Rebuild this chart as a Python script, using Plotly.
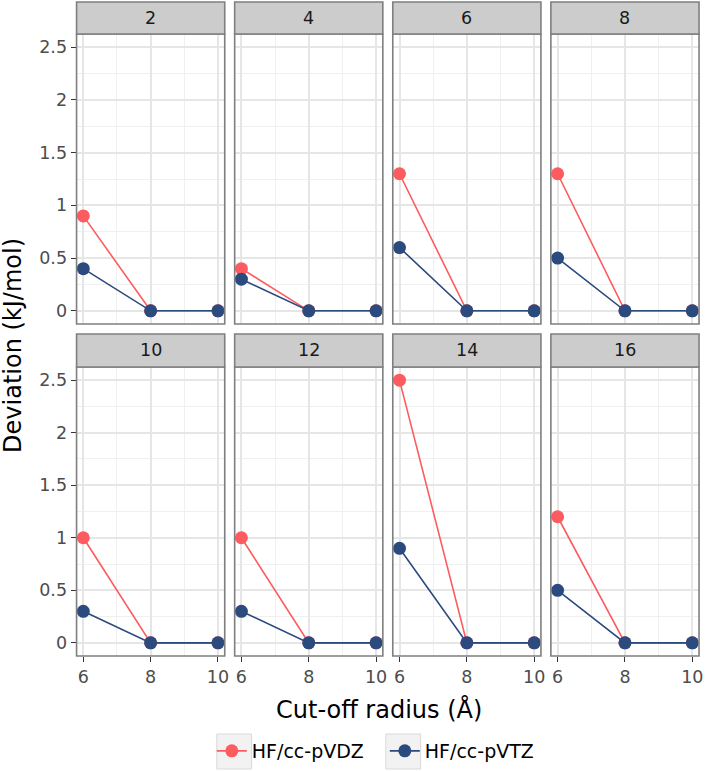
import plotly.graph_objects as go

W, H = 709, 771

panels = ["2", "4", "6", "8", "10", "12", "14", "16"]
cutoff = [6, 8, 10]
vdz = [
    [0.9, 0, 0], [0.4, 0, 0], [1.3, 0, 0], [1.3, 0, 0],
    [1.0, 0, 0], [1.0, 0, 0], [2.5, 0, 0], [1.2, 0, 0],
]
vtz = [
    [0.4, 0, 0], [0.3, 0, 0], [0.6, 0, 0], [0.5, 0, 0],
    [0.3, 0, 0], [0.3, 0, 0], [0.9, 0, 0], [0.5, 0, 0],
]
series_names = ["HF/cc-pVDZ", "HF/cc-pVTZ"]
series_colors = ["#FC5C5F", "#2B4A7E"]
y_ticks = [0, 0.5, 1, 1.5, 2, 2.5]
y_ticktext = ["0", "0.5", "1", "1.5", "2", "2.5"]
x_ticks = [6, 8, 10]

# layout in pixels
cols_px = [(77, 226), (236, 385), (395, 544), (554, 703)]
rows_px = [((2, 34), (34, 324)), ((334, 367), (367, 656))]

def px_x(v):
    return v / W

def px_y(v):
    return 1 - v / H

FONT = "DejaVu Sans"
fig = go.Figure()
shapes = []
annotations = []

for i, name in enumerate(panels):
    r, c = divmod(i, 4)
    ax = "" if i == 0 else str(i + 1)
    x0, x1 = cols_px[c]
    (s0, s1), (p0, p1) = rows_px[r]
    for vals, nm, col in ((vdz[i], series_names[0], series_colors[0]),
                          (vtz[i], series_names[1], series_colors[1])):
        fig.add_trace(go.Scatter(
            x=cutoff, y=vals, mode="lines+markers", name=nm,
            line=dict(color=col, width=1.6),
            marker=dict(color=col, size=13),
            xaxis="x" + ax, yaxis="y" + ax,
            showlegend=(i == 0), legendgroup=nm,
        ))
    left = c == 0
    bottom = r == 1
    fig.layout["xaxis" + ax] = dict(
        domain=[px_x(x0), px_x(x1)], anchor="y" + ax,
        range=[5.8, 10.2], tickvals=x_ticks,
        showticklabels=bottom, ticks="outside" if bottom else "",
        ticklen=5, tickwidth=1.3, tickcolor="#333333",
        tickfont=dict(family=FONT, size=17.5, color="#4D4D4D"),
        showgrid=True, gridcolor="#E6E6E6", gridwidth=1.5,
        minor=dict(tickvals=[7, 9], showgrid=True, gridcolor="#F0F0F0", gridwidth=0.9),
        zeroline=False, showline=False, fixedrange=True,
    )
    fig.layout["yaxis" + ax] = dict(
        domain=[px_y(p1), px_y(p0)], anchor="x" + ax,
        range=[-0.125, 2.625], tickvals=y_ticks, ticktext=y_ticktext,
        showticklabels=left, ticks="outside" if left else "",
        ticklen=5, tickwidth=1.3, tickcolor="#333333",
        tickfont=dict(family=FONT, size=17.5, color="#4D4D4D"),
        showgrid=True, gridcolor="#E6E6E6", gridwidth=1.5,
        minor=dict(tickvals=[0.25, 0.75, 1.25, 1.75, 2.25], showgrid=True,
                   gridcolor="#F0F0F0", gridwidth=0.9),
        zeroline=False, showline=False, fixedrange=True,
    )
    # panel border
    shapes.append(dict(type="rect", xref="x" + ax + " domain", yref="y" + ax + " domain",
                       x0=0, x1=1, y0=0, y1=1, line=dict(color="#7F7F7F", width=1.6),
                       fillcolor="rgba(0,0,0,0)", layer="above"))
    # strip
    shapes.append(dict(type="rect", xref="paper", yref="paper",
                       x0=px_x(x0), x1=px_x(x1), y0=px_y(s1), y1=px_y(s0),
                       line=dict(color="#7F7F7F", width=1.6), fillcolor="#CCCCCC",
                       layer="above"))
    annotations.append(dict(text=name, xref="paper", yref="paper",
                            x=px_x((x0 + x1) / 2), y=px_y((s0 + s1) / 2),
                            showarrow=False, xanchor="center", yanchor="middle",
                            font=dict(family=FONT, size=17.5, color="#1A1A1A")))

# legend key boxes
for bx in (218, 388):
    shapes.append(dict(type="rect", xref="paper", yref="paper",
                       x0=px_x(bx), x1=px_x(bx + 35), y0=px_y(769), y1=px_y(734),
                       line=dict(color="#D9D9D9", width=1), fillcolor="#F2F2F2",
                       layer="above"))

annotations.append(dict(text="Cut-off radius (Å)", xref="paper", yref="paper",
                        x=px_x(381), y=px_y(709), showarrow=False,
                        xanchor="center", yanchor="middle",
                        font=dict(family=FONT, size=24, color="#000000")))
annotations.append(dict(text="Deviation (kJ/mol)", xref="paper", yref="paper",
                        x=px_x(13), y=px_y(345), showarrow=False, textangle=-90,
                        xanchor="center", yanchor="middle",
                        font=dict(family=FONT, size=24, color="#000000")))

fig.update_layout(
    width=W, height=H,
    margin=dict(l=0, r=0, t=0, b=0),
    paper_bgcolor="white", plot_bgcolor="white",
    shapes=shapes, annotations=annotations,
    showlegend=True,
    legend=dict(orientation="h", x=px_x(213), xanchor="left",
                y=px_y(751), yanchor="middle",
                bgcolor="rgba(0,0,0,0)", entrywidth=128, entrywidthmode="pixels",
                font=dict(family=FONT, size=19, color="#000000"),
                itemclick=False, itemdoubleclick=False),
)

fig.write_html(
    "out.html",
    config={"displayModeBar": False},
    post_script="document.body.style.margin='0px';document.body.style.overflow='hidden';",
)
